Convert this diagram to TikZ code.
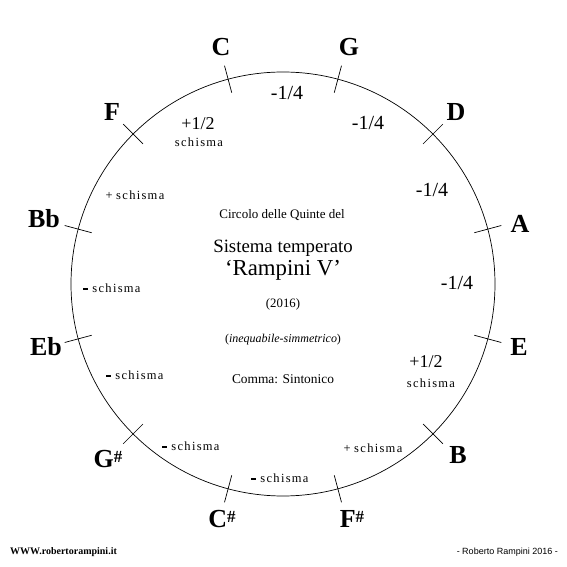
\documentclass[tikz,border=0pt]{standalone}
\usepackage{fontspec}
\setmainfont{Liberation Serif}
\setsansfont{Liberation Sans}
\usetikzlibrary{calc}
\newcommand{\schw}{s\hspace{1.3pt}c\hspace{1.3pt}h\hspace{1.3pt}i\hspace{1.3pt}s\hspace{1.3pt}m\hspace{1.3pt}a}
\newcommand{\mns}{\rule[2.6pt]{4.5pt}{1.5pt}\hspace{4.5pt}}
\newcommand{\pls}{+\hspace{3.5pt}}
\newcommand{\shp}{\raisebox{5pt}{\fontsize{17}{17}\selectfont\#}}
\begin{document}
\begin{tikzpicture}[x=1pt,y=1pt,
  note/.style={font=\fontsize{26}{26}\selectfont\bfseries, inner sep=0pt},
  quarter/.style={font=\fontsize{20}{20}\selectfont, inner sep=0pt},
  half/.style={font=\fontsize{18}{18}\selectfont, inner sep=0pt},
  sch/.style={font=\fontsize{12.5}{13}\selectfont, inner sep=0pt},
  tick/.style={line width=0.7pt},
  title/.style={inner sep=0pt}]
\useasboundingbox (0,0) rectangle (567,567);
\fill[white] (0,0) rectangle (567,567);
\coordinate (O) at (283,283);
\draw[line width=0.7pt] (O) circle (212);
% ticks
\foreach \a/\n in {105/C,75/G,45/D,15/A,-15/E,-45/B,-75/Fs,-105/Cs,-135/Gs,-165/Eb,165/Bb,135/F}{
  \coordinate (in\n) at ($(O)+(\a:198)$);
  \coordinate (out\n) at ($(O)+(\a:226)$);
  \draw[tick] (in\n) -- (out\n);
}
% notes
\node[note] (C) at (221,520) {C};
\node[note] (G) at (349,520) {G};
\node[note] (D) at (456,455) {D};
\node[note] (A) at (520,343) {A};
\node[note] (E) at (519,220) {E};
\node[note] (B) at (458,112) {B};
\node[note] (Fs) at (352,48) {F\shp};
\node[note] (Cs) at (222,48) {C\shp};
\node[note] (Gs) at (108,108) {G\shp};
\node[note] (Eb) at (46,220) {Eb};
\node[note] (Bb) at (44,348) {Bb};
\node[note] (F) at (112,455) {F};
% intervals
\node[quarter] (q1) at (287,474) {-1/4};
\node[quarter] (q2) at (368,444) {-1/4};
\node[quarter] (q3) at (432,377) {-1/4};
\node[quarter] (q4) at (457,284) {-1/4};
\node[half] (h1) at (198,443) {+1/2};
\node[sch] (s1) at (199,425) {\schw};
\node[sch] (s2) at (135,372) {\pls\schw};
\node[sch] (s3) at (112,279) {\mns\schw};
\node[sch] (s4) at (135,192) {\mns\schw};
\node[sch] (s5) at (191,121) {\mns\schw};
\node[sch] (s6) at (280,89) {\mns\schw};
\node[sch] (s7) at (373,119) {\pls\schw};
\node[half] (h2) at (426,205) {+1/2};
\node[sch] (s8) at (431,184) {\schw};
% centre
\node[title,font=\fontsize{13}{13}\selectfont] (t1) at (282,352) {Circolo delle Quinte del};
\node[title,font=\fontsize{18.8}{19}\selectfont] (t2) at (283,319) {Sistema temperato};
\node[title,font=\fontsize{22.8}{23}\selectfont] (t3) at (283,297) {‘Rampini V’};
\node[title,font=\fontsize{12.8}{13}\selectfont] (t4) at (283,263) {(2016)};
\node[title,font=\fontsize{12}{12}\selectfont] (t5) at (283,227) {(\textit{inequabile-simmetrico})};
\node[title,font=\fontsize{13.4}{14}\selectfont] (t6) at (283,188) {Comma: Sintonico};
% footer
\node[title,anchor=west,font=\fontsize{10}{10}\selectfont\bfseries] (w) at (10,15) {WWW.robertorampini.it};
\node[title,anchor=east,font=\fontsize{9}{9}\selectfont\sffamily] (r) at (558,15) {- Roberto Rampini 2016 -};
\end{tikzpicture}
\end{document}
